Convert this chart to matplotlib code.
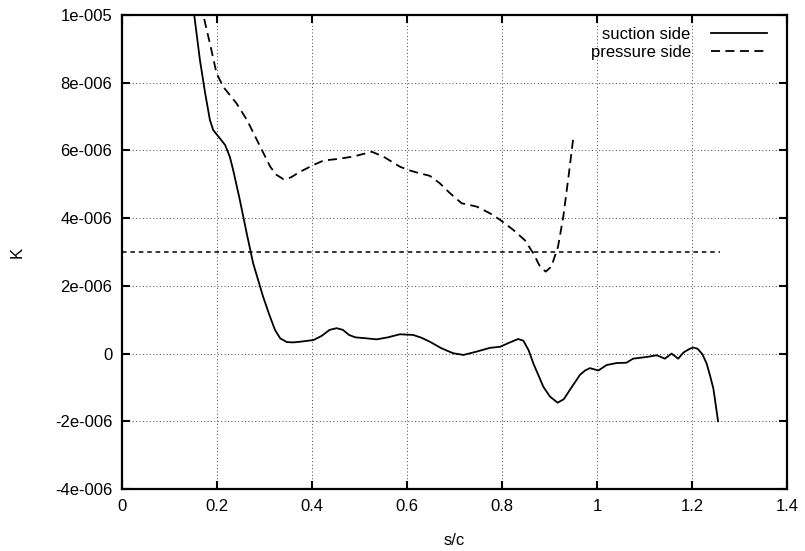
import matplotlib
matplotlib.use("Agg")
import matplotlib.pyplot as plt
import numpy as np

plt.rcParams['font.family'] = ['Liberation Sans', 'DejaVu Sans']

# suction side (solid)
s_suction = [0.148, 0.152, 0.164, 0.175, 0.185, 0.192, 0.203, 0.217, 0.227, 0.234,
             0.248, 0.2625, 0.276, 0.297, 0.31, 0.322, 0.333, 0.347, 0.36, 0.375,
             0.403, 0.42, 0.437, 0.452, 0.465, 0.478, 0.491, 0.515, 0.536, 0.56,
             0.585, 0.613, 0.63, 0.648, 0.672, 0.697, 0.719, 0.747, 0.775, 0.796,
             0.815, 0.834, 0.845, 0.856, 0.866, 0.877, 0.887, 0.901, 0.917, 0.93,
             0.943, 0.955, 0.964, 0.975, 0.985, 1.003, 1.020, 1.041, 1.062, 1.076,
             1.105, 1.126, 1.143, 1.157, 1.171, 1.182, 1.195, 1.203, 1.212, 1.222,
             1.231, 1.238, 1.245, 1.255]
k_suction = [10.3, 10.0, 8.67, 7.69, 6.9, 6.6, 6.41, 6.16, 5.81, 5.42,
             4.54, 3.55, 2.67, 1.68, 1.15, 0.7, 0.45, 0.34, 0.33, 0.35,
             0.40, 0.52, 0.70, 0.75, 0.70, 0.55, 0.48, 0.45, 0.42, 0.48,
             0.57, 0.55, 0.47, 0.35, 0.16, 0.01, -0.04, 0.06, 0.17, 0.20,
             0.32, 0.43, 0.38, 0.10, -0.29, -0.65, -0.98, -1.27, -1.45, -1.35,
             -1.07, -0.82, -0.63, -0.50, -0.43, -0.50, -0.34, -0.28, -0.27, -0.15,
             -0.10, -0.05, -0.15, 0.0, -0.15, 0.03, 0.14, 0.18, 0.14, -0.02,
             -0.3, -0.65, -1.03, -2.0]

# pressure side (dashed)
s_pressure = [0.168, 0.171, 0.185, 0.199, 0.213, 0.241, 0.263, 0.291, 0.312, 0.325,
              0.340, 0.355, 0.375, 0.403, 0.424, 0.455, 0.487, 0.526, 0.550, 0.585,
              0.603, 0.625, 0.648, 0.669, 0.691, 0.715, 0.747, 0.775, 0.796, 0.824,
              0.848, 0.866, 0.880, 0.892, 0.904, 0.918, 0.929, 0.940, 0.950]
k_pressure = [10.3, 10.0, 9.16, 8.28, 7.88, 7.39, 6.9, 6.11, 5.52, 5.28,
              5.15, 5.2, 5.37, 5.57, 5.70, 5.75, 5.82, 5.96, 5.82, 5.52,
              5.42, 5.33, 5.25, 5.03, 4.73, 4.44, 4.34, 4.14, 3.95, 3.65,
              3.35, 2.96, 2.57, 2.42, 2.57, 3.16, 4.04, 5.22, 6.36]

# threshold line
s_limit = [0.0, 1.26]
k_limit = [3.0, 3.0]

xticks = [0, 0.2, 0.4, 0.6, 0.8, 1.0, 1.2, 1.4]
xticklabels = ["0", "0.2", "0.4", "0.6", "0.8", "1", "1.2", "1.4"]
yticks = [-4e-6, -2e-6, 0, 2e-6, 4e-6, 6e-6, 8e-6, 1e-5]
yticklabels = ["-4e-006", "-2e-006", "0", "2e-006", "4e-006", "6e-006", "8e-006", "1e-005"]

fig = plt.figure(figsize=(8.05, 5.51), dpi=100)
ax = fig.add_axes([0.1516, 0.1125, 0.8260, 0.8603])

ax.plot(s_suction, np.array(k_suction) * 1e-6, color="black", lw=1.3, label="suction side")
ax.plot(s_pressure, np.array(k_pressure) * 1e-6, color="black", lw=1.3,
        dashes=(5, 3), label="pressure side")
ax.plot(s_limit, np.array(k_limit) * 1e-6, color="black", lw=1.1, dashes=(3, 2.5))

ax.set_xlim(0, 1.4)
ax.set_ylim(-4e-6, 1e-5)
ax.set_xticks(xticks)
ax.set_xticklabels(xticklabels)
ax.set_yticks(yticks)
ax.set_yticklabels(yticklabels)
ax.tick_params(direction="in", top=True, right=True, length=6, width=1.5,
               labelsize=12, pad=7)
ax.grid(True, color="#444444", linestyle=(0, (1, 2.5)), linewidth=0.7)
for sp in ax.spines.values():
    sp.set_linewidth(1.6)

ax.set_xlabel("s/c", fontsize=12, labelpad=14)
ax.set_ylabel("K", fontsize=12, labelpad=22)

ax.legend(loc="upper right", frameon=False, markerfirst=False, fontsize=12,
          handlelength=3.4, handletextpad=1.2, labelspacing=0.2,
          borderaxespad=0.3, bbox_to_anchor=(0.988, 1.0))

fig.savefig("out.png", dpi=100)
